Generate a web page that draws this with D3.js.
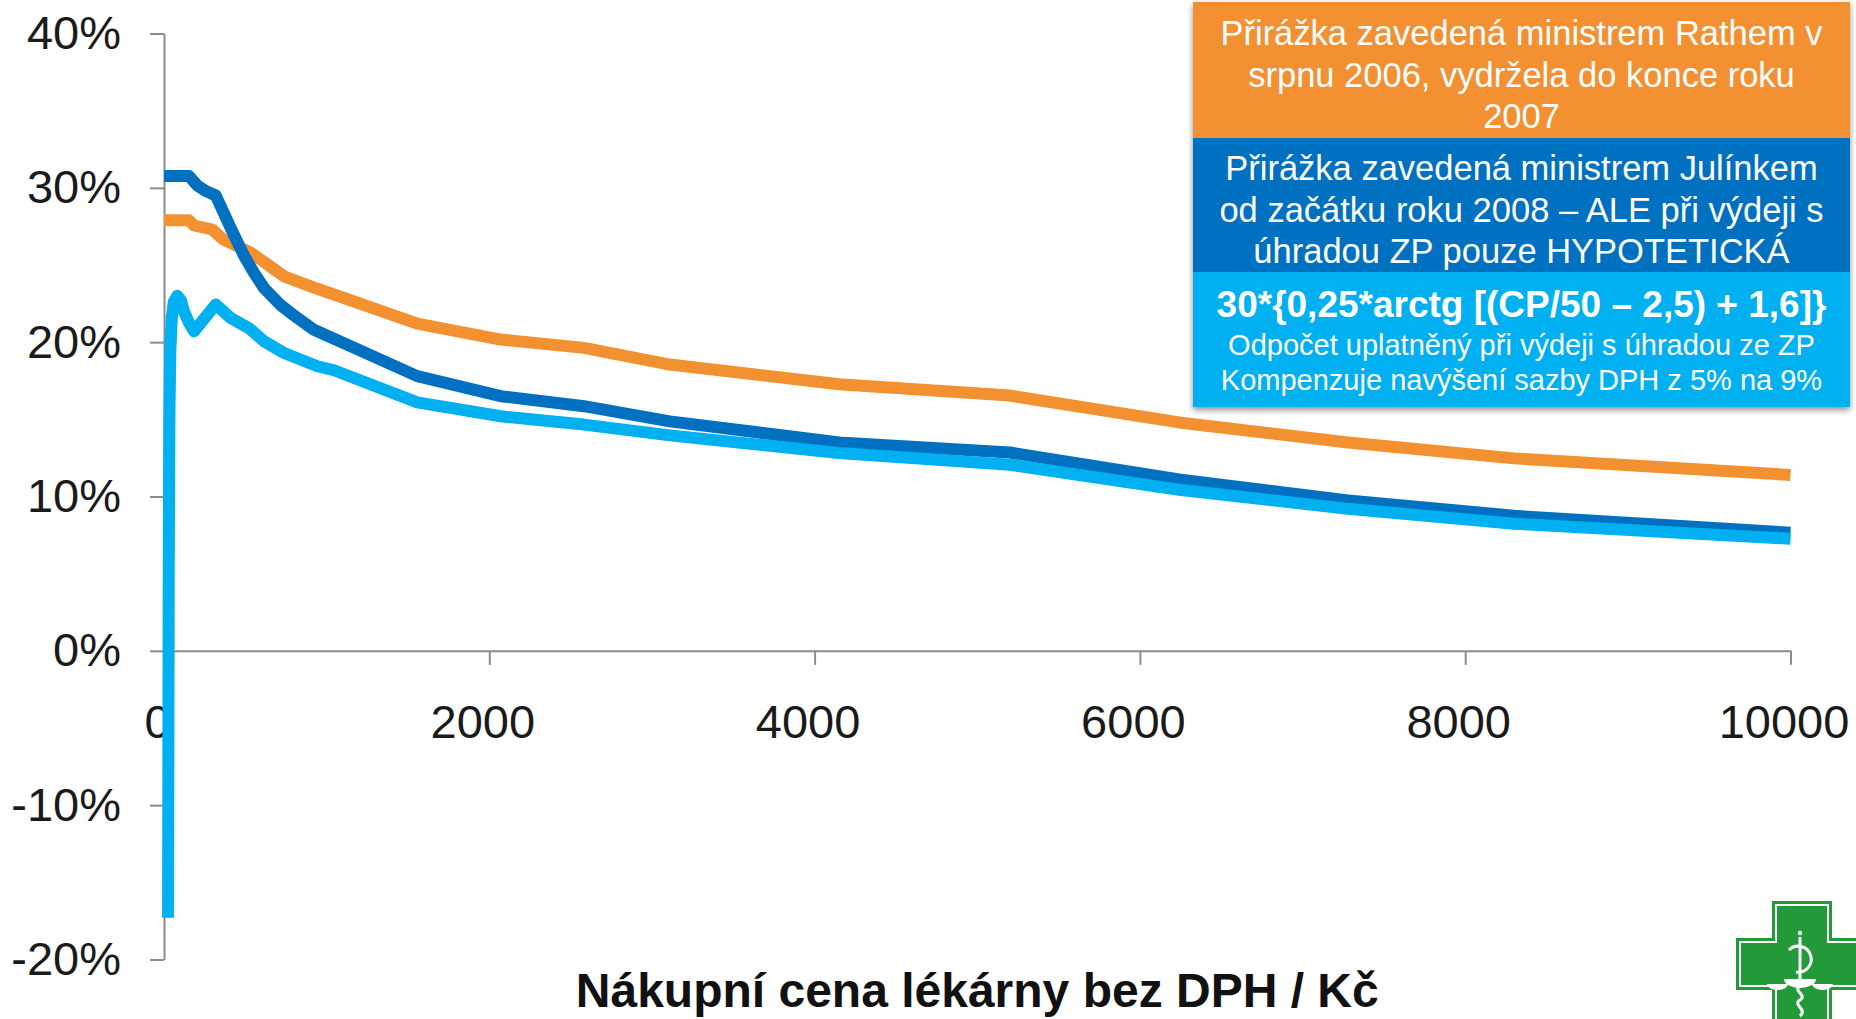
<!DOCTYPE html>
<meta charset="utf-8">
<style>

body {
  margin: 0;
  background: #fff;
}

svg {
  display: block;
  font-family: "Liberation Sans", Arial, sans-serif;
}

.axis path,
.axis line {
  fill: none;
  stroke: #8c8c8c;
  stroke-width: 2px;
}

.axis text {
  fill: #1a1a1a;
  font-size: 47px;
  font-family: "Liberation Sans", Arial, sans-serif;
}

.line {
  fill: none;
  stroke-width: 12px;
  stroke-linejoin: round;
}

.note {
  fill: #fff;
  text-anchor: middle;
}

</style>
<body>
<script src="https://d3js.org/d3.v7.min.js"></script>
<script>

// prirazka (%) podle nakupni ceny (Kc)
var rathCena = [0, 154, 184, 297, 359, 533, 738, 943, 1045, 1557, 2070, 2582, 3110, 4150, 5200, 6240, 7280, 8300, 10000];
var rathPrirazka = [27.9, 27.9, 27.56, 27.3, 26.7, 25.8, 24.27, 23.46, 23.09, 21.2, 20.17, 19.63, 18.55, 17.27, 16.54, 14.8, 13.5, 12.47, 11.4];

var julinekCena = [0, 154, 205, 256, 318, 410, 492, 553, 615, 717, 820, 922, 1557, 2070, 2582, 3110, 4150, 5200, 6240, 7280, 8300, 10000];
var julinekPrirazka = [30.76, 30.76, 30.15, 29.8, 29.5, 27.4, 25.6, 24.5, 23.5, 22.4, 21.57, 20.8, 17.8, 16.5, 15.85, 14.87, 13.5, 12.85, 11.1, 9.75, 8.75, 7.65];

var odpocetCena = [25, 29, 33, 39, 48, 60, 82, 105, 123, 154, 184, 318, 410, 523, 615, 738, 943, 1045, 1557, 2070, 2582, 3110, 4150, 5200, 6240, 7280, 8300, 10000];
var odpocetPrirazka = [-17.3, 5, 15, 19.5, 21.6, 22.6, 23.0, 22.7, 22.0, 21.25, 20.7, 22.44, 21.57, 20.9, 20.06, 19.3, 18.44, 18.18, 16.1, 15.2, 14.66, 13.96, 12.82, 12.06, 10.44, 9.2, 8.24, 7.26];

var xTicks = [0, 2000, 4000, 6000, 8000, 10000];
var yTicks = [-0.2, -0.1, 0, 0.1, 0.2, 0.3, 0.4];

var rathText = ["Přirážka zavedená ministrem Rathem v", "srpnu 2006, vydržela do konce roku", "2007"];
var julinekText = ["Přirážka zavedená ministrem Julínkem", "od začátku roku 2008 – ALE při výdeji s", "úhradou ZP pouze HYPOTETICKÁ"];
var vzorec = "30*{0,25*arctg [(CP/50 – 2,5) + 1,6]}";
var odpocetText = ["Odpočet uplatněný při výdeji s úhradou ze ZP", "Kompenzuje navýšení sazby DPH z 5% na 9%"];

var width = 1856,
    height = 1019;

var svg = d3.select("body").append("svg")
    .attr("width", width)
    .attr("height", height);

var x = d3.scaleLinear()
    .domain([0, 10000])
    .range([164, 1790.5]);

var y = d3.scaleLinear()
    .domain([-0.2, 0.4])
    .range([959.5, 33.5]);

var yAxis = d3.axisLeft(y)
    .tickValues(yTicks)
    .tickSize(14)
    .tickSizeOuter(0)
    .tickPadding(29)
    .tickFormat(function(d) { return Math.round(d * 100) + "%"; });

var xAxis = d3.axisBottom(x)
    .tickValues(xTicks)
    .tickSize(14)
    .tickSizeOuter(0)
    .tickPadding(40)
    .tickFormat(function(d) { return d; });

svg.append("g")
    .attr("class", "y axis")
    .attr("transform", "translate(" + x(0) + ",0)")
    .call(yAxis);

svg.append("g")
    .attr("class", "x axis")
    .attr("transform", "translate(0," + y(0) + ")")
    .call(xAxis)
  .selectAll("text")
    .attr("dx", -7);

var line = d3.line()
    .x(function(d) { return x(d[0]); })
    .y(function(d) { return y(d[1] / 100); });

var series = [
  {cena: rathCena, hodnoty: rathPrirazka, color: "#f39130"},
  {cena: julinekCena, hodnoty: julinekPrirazka, color: "#0070c0"},
  {cena: odpocetCena, hodnoty: odpocetPrirazka, color: "#00b0f0"}
];

svg.selectAll(".line")
    .data(series)
  .enter().append("path")
    .attr("class", "line")
    .attr("d", function(s) { return line(d3.zip(s.cena, s.hodnoty)); })
    .style("stroke", function(s) { return s.color; });

// popis osy x
svg.append("text")
    .attr("x", (x(0) + x(10000)) / 2)
    .attr("y", 1007)
    .attr("text-anchor", "middle")
    .style("font-size", "48px")
    .style("font-weight", "bold")
    .style("fill", "#111")
    .text("Nákupní cena lékárny bez DPH / Kč");

// legenda - tri barevne boxy
var defs = svg.append("defs");
defs.append("filter")
    .attr("id", "stin")
    .attr("x", "-5%").attr("y", "-5%")
    .attr("width", "110%").attr("height", "115%")
  .append("feDropShadow")
    .attr("dx", 0)
    .attr("dy", 3)
    .attr("stdDeviation", 3)
    .attr("flood-color", "#000")
    .attr("flood-opacity", 0.45);

var boxX = 1193, boxW = 657, boxCx = boxX + boxW / 2;

var boxes = svg.append("g").attr("filter", "url(#stin)");

boxes.append("rect").attr("x", boxX).attr("y", 2).attr("width", boxW).attr("height", 136).style("fill", "#f39130");
boxes.append("rect").attr("x", boxX).attr("y", 138).attr("width", boxW).attr("height", 134).style("fill", "#0070c0");
boxes.append("rect").attr("x", boxX).attr("y", 272).attr("width", boxW).attr("height", 135).style("fill", "#00b0f0");

svg.selectAll(".rath")
    .data(rathText)
  .enter().append("text")
    .attr("class", "note rath")
    .attr("x", boxCx)
    .attr("y", function(d, i) { return 45 + i * 41.5; })
    .style("font-size", "34.5px")
    .text(function(d) { return d; });

svg.selectAll(".julinek")
    .data(julinekText)
  .enter().append("text")
    .attr("class", "note julinek")
    .attr("x", boxCx)
    .attr("y", function(d, i) { return 180 + i * 41.5; })
    .style("font-size", "34.5px")
    .text(function(d) { return d; });

svg.append("text")
    .attr("class", "note")
    .attr("x", boxCx)
    .attr("y", 317)
    .style("font-size", "37px")
    .style("font-weight", "bold")
    .text(vzorec);

svg.selectAll(".odpocet")
    .data(odpocetText)
  .enter().append("text")
    .attr("class", "note odpocet")
    .attr("x", boxCx)
    .attr("y", function(d, i) { return 355 + i * 34.5; })
    .style("font-size", "29px")
    .text(function(d) { return d; });

// zeleny lekarensky kriz vpravo dole
var logo = svg.append("g");
var kriz = "M1772,901 H1832 V938 H1868 V990 H1832 V1030 H1772 V990 H1736 V938 H1772 Z";
logo.append("path").attr("d", kriz).style("fill", "#239a3a");
logo.append("path")
    .attr("d", "M1776,905 H1828 V942 H1864 V986 H1828 V1026 H1776 V986 H1740 V942 H1776 Z")
    .style("fill", "none")
    .style("stroke", "#fff")
    .style("stroke-width", 2);
logo.append("circle").attr("cx", 1800).attr("cy", 933).attr("r", 2.2).style("fill", "#fff");
logo.append("path")
    .attr("d", "M1800,937 V981 M1789,950 A13,13 0 1 1 1796,972")
    .style("fill", "none").style("stroke", "#fff").style("stroke-width", 3);
logo.append("path").attr("d", "M1784,979 H1816 A16,9 0 0 1 1784,979 Z").style("fill", "#fff");
logo.append("path").attr("d", "M1767,984 H1788 A10.5,6 0 0 1 1767,984 Z").style("fill", "#fff");
logo.append("path").attr("d", "M1812,984 H1833 A10.5,6 0 0 1 1812,984 Z").style("fill", "#fff");
logo.append("path")
    .attr("d", "M1800,986 C1792,991 1808,995 1800,1000 C1792,1005 1808,1009 1800,1016")
    .style("fill", "none").style("stroke", "#fff").style("stroke-width", 3);

</script>
